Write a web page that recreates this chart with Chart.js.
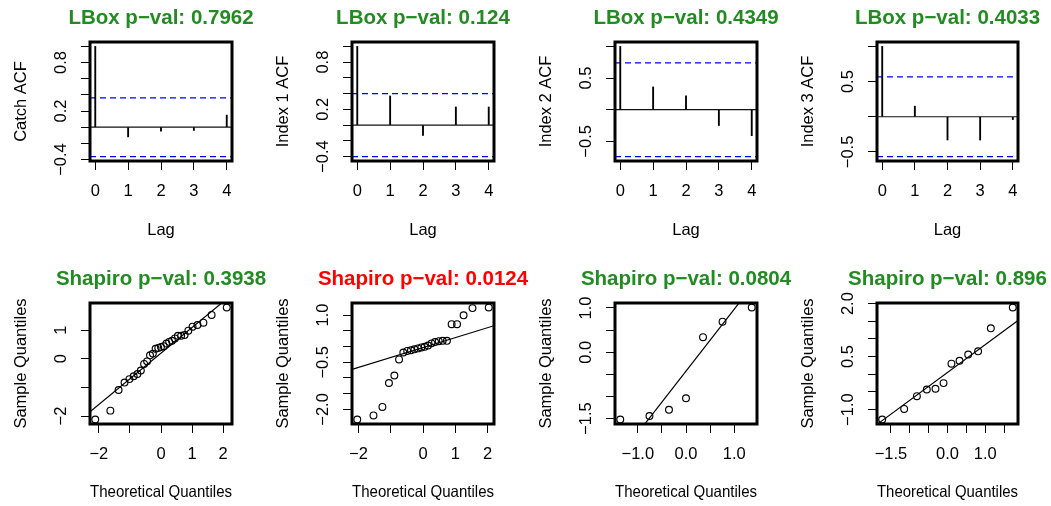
<!DOCTYPE html>
<html>
<head>
<meta charset="utf-8">
<title>Residual diagnostics</title>
<script src="https://cdn.jsdelivr.net/npm/chart.js@4.4.1/dist/chart.umd.min.js"></script>
<style>
  html, body { margin: 0; padding: 0; background: #fff; }
  #wrap { position: relative; width: 1051px; height: 506px; overflow: hidden; }
  #wrap canvas { position: absolute; }
</style>
</head>
<body>
<div id="wrap"></div>
<script>
// ---- ACF data ----
const lags = [0, 1, 2, 3, 4];
const acfNames = ["Catch ACF", "Index 1 ACF", "Index 2 ACF", "Index 3 ACF"];
const acfCatch = [1, -0.12, -0.05, -0.04, 0.15];
const acfIndex1 = [1, 0.37, -0.13, 0.23, 0.23];
const acfIndex2 = [1, 0.36, 0.22, -0.25, -0.41];
const acfIndex3 = [1, 0.15, -0.33, -0.33, -0.04];
const acfBands = [0.364, 0.4, 0.741, 0.566];
const lboxPvals = ["0.7962", "0.124", "0.4349", "0.4033"];

// ---- QQ data (theoretical vs sample quantiles) ----
const theoCatch = [-2.114, -1.628, -1.364, -1.172, -1.015, -0.879, -0.758, -0.648, -0.544, -0.447,
  -0.353, -0.262, -0.174, -0.087, 0, 0.087, 0.174, 0.262, 0.353, 0.447,
  0.544, 0.648, 0.758, 0.879, 1.015, 1.172, 1.364, 1.628, 2.114];
const sampCatch = [-2.12, -1.81, -1.09, -0.83, -0.71, -0.61, -0.53, -0.41, -0.18, -0.09,
  0.12, 0.18, 0.35, 0.38, 0.41, 0.44, 0.53, 0.59, 0.63, 0.71,
  0.8, 0.8, 0.83, 0.98, 1.12, 1.18, 1.26, 1.53, 1.79];
const theoIndex1 = [-2.037, -1.534, -1.258, -1.055, -0.887, -0.742, -0.61, -0.489, -0.374, -0.264, -0.157, -0.052,
  0.052, 0.157, 0.264, 0.374, 0.489, 0.61, 0.742, 0.887, 1.055, 1.258, 1.534, 2.037];
const sampIndex1 = [-2.32, -2.19, -1.92, -1.16, -0.92, -0.41, -0.19, -0.14, -0.12, -0.09, -0.06, -0.03,
  -0.01, 0.03, 0.1, 0.14, 0.17, 0.18, 0.18, 0.71, 0.71, 0.99, 1.22, 1.24];
const theoIndex2 = [-1.364, -0.758, -0.353, 0, 0.353, 0.758, 1.364];
const sampIndex2 = [-1.52, -1.44, -1.3, -1.04, 0.34, 0.69, 1.01];
const theoIndex3 = [-1.732, -1.15, -0.812, -0.549, -0.319, -0.105, 0.105, 0.319, 0.549, 0.812, 1.15, 1.732];
const sampIndex3 = [-1.28, -0.98, -0.62, -0.43, -0.41, -0.25, 0.3, 0.38, 0.56, 0.65, 1.3, 1.89];
const shapiroPvals = ["0.3938", "0.0124", "0.0804", "0.896"];

// ---- ticks and labels (R drops labels that would overlap) ----
const lagLabels = ["0", "1", "2", "3", "4"];
const acfTicksA = [-0.4, -0.2, 0, 0.2, 0.4, 0.6, 0.8, 1];
const acfLabelsA = ["−0.4", "", "", "0.2", "", "", "0.8", ""];
const acfTicksB = [-0.5, 0, 0.5, 1];
const acfLabelsB = ["−0.5", "", "0.5", ""];

const qqXTicks2 = [-2, -1, 0, 1, 2];
const qqXLabels2 = ["−2", "", "0", "1", "2"];
const qqXTicksH = [-1, -0.5, 0, 0.5, 1];
const qqXLabelsH = ["−1.0", "", "0.0", "", "1.0"];
const qqXTicksH15 = [-1.5, -1, -0.5, 0, 0.5, 1, 1.5];
const qqXLabelsH15 = ["−1.5", "", "", "0.0", "", "1.0", ""];

const qqYTicksCatch = [-2, -1, 0, 1];
const qqYLabelsCatch = ["−2", "", "0", "1"];
const qqYTicksIdx1 = [-2, -1.5, -1, -0.5, 0, 0.5, 1];
const qqYLabelsIdx1 = ["−2.0", "", "", "−0.5", "", "", "1.0"];
const qqYTicksIdx2 = [-1.5, -1, -0.5, 0, 0.5, 1];
const qqYLabelsIdx2 = ["−1.5", "", "", "0.0", "", "1.0"];
const qqYTicksIdx3 = [-1, -0.5, 0, 0.5, 1, 1.5, 2];
const qqYLabelsIdx3 = ["−1.0", "", "", "0.5", "", "", "2.0"];

// ---- layout ----
const boxLeft = [90, 352, 615, 877];
const boxRight = [232, 494, 757, 1018];
const rowTop = [0, 253];
const boxTop = [42, 303];
const boxBottom = [161, 424];
const xTitlePad = [13, 4];
const fontFam = '"Liberation Sans", Arial, sans-serif';
const textFont = { family: fontFam, size: 16.5 };

const wrap = document.getElementById("wrap");
const pColor = (p) => (parseFloat(p) < 0.05 ? "#FF0000" : "#228B22");

// like R's default axis range: data range plus 4% each side
function rRange(vals) {
  const lo = Math.min(...vals), hi = Math.max(...vals);
  const d = (hi - lo) * 0.04;
  return [lo - d, hi + d];
}

// qqline(): line through the 1st and 3rd quartiles (quantile type 7)
function quantile7(sorted, p) {
  const h = (sorted.length - 1) * p;
  const i = Math.floor(h);
  const next = i + 1 < sorted.length ? sorted[i + 1] : sorted[i];
  return sorted[i] + (h - i) * (next - sorted[i]);
}
function qqLine(samp) {
  const s = [...samp].sort((a, b) => a - b);
  const z = 0.6744898;
  const y1 = quantile7(s, 0.25), y2 = quantile7(s, 0.75);
  const slope = (y2 - y1) / (2 * z);
  return { slope, icpt: y1 + slope * z };
}

// box, rotated y tick labels and main title, R style
const rFrame = {
  id: "rFrame",
  afterDraw(chart, args, opts) {
    const { ctx, chartArea: a, scales } = chart;
    ctx.save();
    ctx.fillStyle = "#000";
    ctx.font = "16.5px " + fontFam;
    ctx.textAlign = "center";
    ctx.textBaseline = "alphabetic";
    opts.yTicks.forEach((v, i) => {
      if (!opts.yLabels[i]) return;
      ctx.save();
      ctx.translate(a.left - 24, scales.y.getPixelForValue(v));
      ctx.rotate(-Math.PI / 2);
      ctx.fillText(opts.yLabels[i], 0, 0);
      ctx.restore();
    });
    ctx.lineWidth = 3;
    ctx.strokeStyle = "#000";
    ctx.strokeRect(a.left, a.top, a.right - a.left, a.bottom - a.top);
    ctx.font = "bold 20.5px " + fontFam;
    ctx.fillStyle = opts.color;
    ctx.fillText(opts.title, (a.left + a.right) / 2, a.top - 18);
    ctx.restore();
  }
};

function panel(col, row, type, datasets, ax) {
  const w = 90 + (boxRight[col] - boxLeft[col]) + 45;
  const cv = document.createElement("canvas");
  cv.width = w;
  cv.height = 253;
  cv.style.left = boxLeft[col] - 90 + "px";
  cv.style.top = rowTop[row] + "px";
  wrap.appendChild(cv);

  const grid = { drawOnChartArea: false, drawTicks: true, tickLength: 9, color: "#000", lineWidth: 1, offset: false };
  new Chart(cv, {
    type: type,
    data: { datasets: datasets },
    options: {
      responsive: false,
      animation: false,
      events: [],
      layout: { padding: { top: boxTop[row] - rowTop[row], right: 45, bottom: 0, left: 0 } },
      plugins: {
        legend: { display: false },
        tooltip: { enabled: false },
        rFrame: { title: ax.title, color: ax.color, yTicks: ax.yTicks, yLabels: ax.yLabels }
      },
      scales: {
        x: {
          type: "linear",
          min: ax.xLim[0],
          max: ax.xLim[1],
          offset: false,
          grid: grid,
          border: { display: false },
          afterBuildTicks: (s) => { s.ticks = ax.xTicks.map((v) => ({ value: v })); },
          afterFit: (s) => { s.height = rowTop[row] + 253 - boxBottom[row]; },
          ticks: {
            autoSkip: false, maxRotation: 0, minRotation: 0, padding: 11.5,
            color: "#000", font: textFont,
            callback: (v, i) => ax.xLabels[i]
          },
          title: { display: true, text: ax.xTitle, color: "#000", font: textFont, padding: { top: 0, bottom: xTitlePad[row] } }
        },
        y: {
          type: "linear",
          min: ax.yLim[0],
          max: ax.yLim[1],
          grid: grid,
          border: { display: false },
          afterBuildTicks: (s) => { s.ticks = ax.yTicks.map((v) => ({ value: v })); },
          afterFit: (s) => { s.width = 90; },
          ticks: { display: false },
          title: { display: true, text: ax.yTitle, color: "#000", font: textFont, padding: { top: 11.5, bottom: 0 } }
        }
      }
    },
    plugins: [rFrame]
  });
}

function acfPanel(col, acf, yTicks, yLabels) {
  const band = acfBands[col];
  const xLim = rRange(lags);
  const yLim = rRange([...acf, band, -band]);
  const hline = (y, color, dash) => ({
    type: "line",
    data: xLim.map((x) => ({ x: x, y: y })),
    borderColor: color,
    borderWidth: 1.2,
    borderDash: dash,
    pointRadius: 0
  });
  panel(col, 0, "bar", [
    { type: "bar", data: lags.map((l, i) => ({ x: l, y: acf[i] })), backgroundColor: "#000", barThickness: 1.2 },
    hline(0, "#111", []),
    hline(band, "#0000FF", [6, 4]),
    hline(-band, "#0000FF", [6, 4])
  ], {
    title: "LBox p−val: " + lboxPvals[col],
    color: pColor(lboxPvals[col]),
    xLim: xLim, yLim: yLim,
    xTicks: lags, xLabels: lagLabels,
    yTicks: yTicks, yLabels: yLabels,
    xTitle: "Lag", yTitle: acfNames[col]
  });
}

function qqPanel(col, theo, samp, xTicks, xLabels, yTicks, yLabels) {
  const xLim = rRange(theo);
  const yLim = rRange(samp);
  const line = qqLine(samp);
  panel(col, 1, "scatter", [
    {
      data: theo.map((x, i) => ({ x: x, y: samp[i] })),
      pointStyle: "circle", pointRadius: 3.4,
      borderColor: "#000", backgroundColor: "rgba(0,0,0,0)",
      borderWidth: 1.15, pointBorderWidth: 1.15, showLine: false
    },
    {
      type: "line",
      data: xLim.map((x) => ({ x: x, y: line.icpt + line.slope * x })),
      borderColor: "#000", borderWidth: 1.2, pointRadius: 0
    }
  ], {
    title: "Shapiro p−val: " + shapiroPvals[col],
    color: pColor(shapiroPvals[col]),
    xLim: xLim, yLim: yLim,
    xTicks: xTicks, xLabels: xLabels,
    yTicks: yTicks, yLabels: yLabels,
    xTitle: "Theoretical Quantiles", yTitle: "Sample Quantiles"
  });
}

acfPanel(0, acfCatch, acfTicksA, acfLabelsA);
acfPanel(1, acfIndex1, acfTicksA, acfLabelsA);
acfPanel(2, acfIndex2, acfTicksB, acfLabelsB);
acfPanel(3, acfIndex3, acfTicksB, acfLabelsB);

qqPanel(0, theoCatch, sampCatch, qqXTicks2, qqXLabels2, qqYTicksCatch, qqYLabelsCatch);
qqPanel(1, theoIndex1, sampIndex1, qqXTicks2, qqXLabels2, qqYTicksIdx1, qqYLabelsIdx1);
qqPanel(2, theoIndex2, sampIndex2, qqXTicksH, qqXLabelsH, qqYTicksIdx2, qqYLabelsIdx2);
qqPanel(3, theoIndex3, sampIndex3, qqXTicksH15, qqXLabelsH15, qqYTicksIdx3, qqYLabelsIdx3);
</script>
</body>
</html>
